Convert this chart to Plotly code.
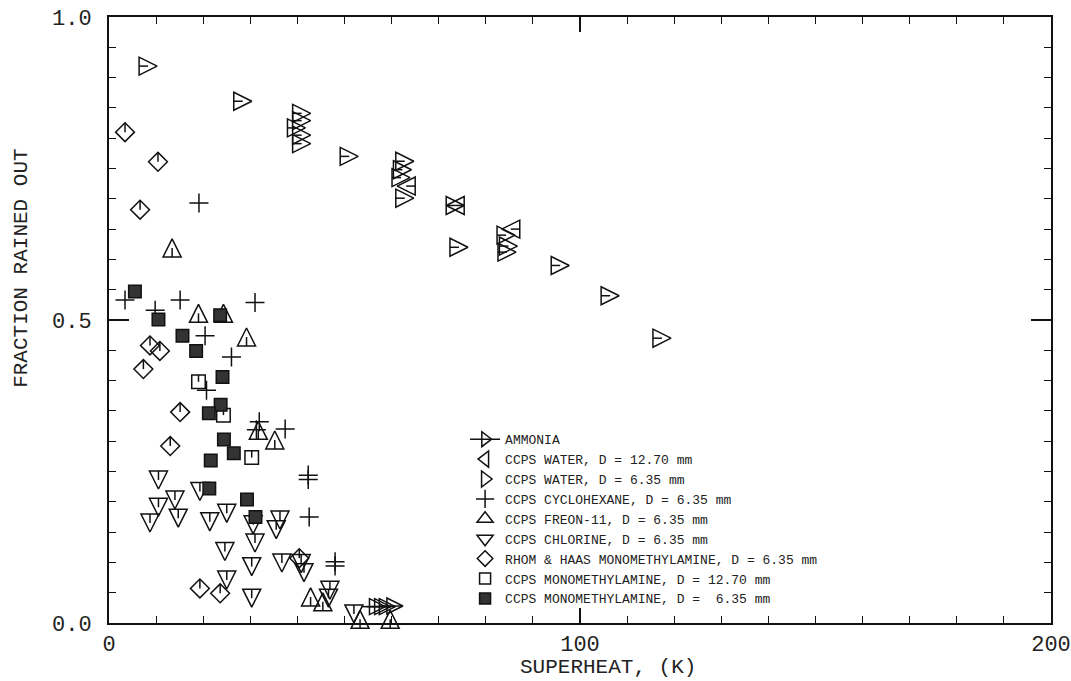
import plotly.graph_objects as go

# Fraction rained out versus superheat for several release tests
ammonia_x = [57.0, 58.1, 59.1, 60.7]
ammonia_y = [0.027, 0.027, 0.027, 0.028]

water127_x = [63.1, 73.5, 85.3]
water127_y = [0.721, 0.689, 0.650]

water635_x = [8.3, 28.4, 40.9, 40.9, 39.8, 40.9, 40.9, 51.0, 62.8, 62.3,
              62.0, 62.8, 73.5, 74.3, 84.3, 84.8, 84.5, 95.8, 106.4, 117.4]
water635_y = [0.919, 0.861, 0.841, 0.829, 0.817, 0.805, 0.791, 0.770, 0.762, 0.748,
              0.735, 0.701, 0.689, 0.620, 0.640, 0.622, 0.612, 0.590, 0.540, 0.470]

cyclo_x = [19.1, 3.4, 9.8, 15.1, 31.0, 20.4, 26.0, 20.7, 31.9, 31.3,
           37.4, 42.3, 42.3, 42.5, 48.0, 48.0]
cyclo_y = [0.693, 0.533, 0.516, 0.533, 0.529, 0.474, 0.439, 0.384, 0.332, 0.319,
           0.320, 0.244, 0.237, 0.175, 0.101, 0.094]

freon_x = [13.4, 19.0, 24.3, 29.2, 31.7, 35.2, 42.8, 45.4, 53.3, 59.7]
freon_y = [0.619, 0.511, 0.511, 0.472, 0.318, 0.302, 0.043, 0.035, 0.006, 0.006]

chlorine_x = [10.5, 14.0, 10.5, 8.7, 14.7, 19.3, 21.4, 25.0, 30.6, 36.3,
              35.5, 31.0, 24.6, 30.3, 36.7, 25.0, 30.3, 40.8, 41.4, 46.9,
              46.6, 52.0]
chlorine_y = [0.236, 0.203, 0.191, 0.165, 0.173, 0.217, 0.167, 0.181, 0.162, 0.170,
              0.154, 0.132, 0.118, 0.093, 0.099, 0.071, 0.041, 0.098, 0.083, 0.054,
              0.041, 0.015]

rhom_x = [3.4, 10.4, 6.6, 8.7, 10.8, 7.3, 15.1, 13.0, 19.3, 23.6, 40.4]
rhom_y = [0.810, 0.761, 0.682, 0.458, 0.449, 0.419, 0.348, 0.292, 0.057, 0.049, 0.107]

mma127_x = [19.0, 24.3, 30.3]
mma127_y = [0.398, 0.343, 0.273]

mma635_x = [5.5, 10.5, 23.6, 15.6, 18.5, 24.1, 23.7, 21.2, 24.4, 26.5,
            21.6, 21.3, 29.3, 31.1]
mma635_y = [0.547, 0.501, 0.508, 0.474, 0.449, 0.406, 0.360, 0.346, 0.303, 0.280,
            0.268, 0.222, 0.204, 0.175]

x_ticks = [0, 100, 200]
x_tick_text = ["0", "100", "200"]
y_ticks = [0.0, 0.5, 1.0]
y_tick_text = ["0.0", "0.5", "1.0"]

MONO = "Liberation Mono"
INK = "#111111"
TXT = "#222222"
LW = 1.5
TRI = 18          # triangle marker size (px)
HALF = TRI / 2

fig = go.Figure()


def add_shape(xs, ys, symbol, size, angle=0, standoff=0, fill=None):
    # open symbols take their stroke colour from marker.color
    marker = dict(symbol=symbol, size=size, angle=angle, standoff=standoff,
                  color=INK if fill is None else fill,
                  line=dict(color=INK, width=LW))
    fig.add_trace(go.Scatter(x=xs, y=ys, mode="markers", showlegend=False,
                             cliponaxis=False, marker=marker))


def add_stroke(xs, ys, length, angle, standoff):
    # short inner stroke drawn from the edge of a symbol toward its centre
    fig.add_trace(go.Scatter(
        x=xs, y=ys, mode="markers", showlegend=False, hoverinfo="skip",
        cliponaxis=False,
        marker=dict(symbol="line-ns-open", size=length / 1.4, angle=angle,
                    standoff=standoff, color=INK, line=dict(color=INK, width=LW)),
    ))


def add_key(name, symbol, size, fill=None, with_line=False):
    # legend entry only (no data points of its own)
    fig.add_trace(go.Scatter(
        x=[None], y=[None], name=name,
        mode="lines+markers" if with_line else "markers",
        line=dict(color=INK, width=LW),
        marker=dict(symbol=symbol, size=size,
                    color=INK if fill is None else fill,
                    line=dict(color=INK, width=LW)),
    ))


# AMMONIA: right-pointing triangle with a through line
add_shape(ammonia_x, ammonia_y, "arrow-down-open", 16, 270, 8)
add_stroke(ammonia_x, ammonia_y, 24, 90, 4)

# CCPS WATER 12.70 mm: left-pointing triangle
add_shape(water127_x, water127_y, "arrow-down-open", TRI, 90, HALF)
add_stroke(water127_x, water127_y, HALF, 270, HALF / 2)

# CCPS WATER 6.35 mm: right-pointing triangle
add_shape(water635_x, water635_y, "arrow-down-open", TRI, 270, HALF)
add_stroke(water635_x, water635_y, HALF, 90, HALF / 2)

# CCPS CYCLOHEXANE: plus
add_shape(cyclo_x, cyclo_y, "cross-thin-open", 13.6)

# CCPS FREON-11: up triangle
add_shape(freon_x, freon_y, "arrow-down-open", TRI, 180, HALF)
add_stroke(freon_x, freon_y, HALF, 0, HALF / 2)

# CCPS CHLORINE: down triangle
add_shape(chlorine_x, chlorine_y, "arrow-down-open", TRI, 0, HALF)
add_stroke(chlorine_x, chlorine_y, HALF, 180, HALF / 2)

# RHOM & HAAS: diamond
add_shape(rhom_x, rhom_y, "diamond-open", 14.5)
add_stroke(rhom_x, rhom_y, 9.4, 180, 4.7)

# CCPS MONOMETHYLAMINE 12.70 mm: square
add_shape(mma127_x, mma127_y, "square-open", 13.5)
add_stroke(mma127_x, mma127_y, 6.75, 180, 3.4)

# CCPS MONOMETHYLAMINE 6.35 mm: dark filled block
add_shape(mma635_x, mma635_y, "square", 12.5, fill="#333333")

# legend
add_key("AMMONIA", "triangle-right-open", 13, with_line=True)
add_key("CCPS WATER, D = 12.70 mm", "triangle-left-open", 14)
add_key("CCPS WATER, D = 6.35 mm", "triangle-right-open", 14)
add_key("CCPS CYCLOHEXANE, D = 6.35 mm", "cross-thin-open", 13)
add_key("CCPS FREON-11, D = 6.35 mm", "triangle-up-open", 14)
add_key("CCPS CHLORINE, D = 6.35 mm", "triangle-down-open", 14)
add_key("RHOM & HAAS MONOMETHYLAMINE, D = 6.35 mm", "diamond-open", 12)
add_key("CCPS MONOMETHYLAMINE, D = 12.70 mm", "square-open", 11)
add_key("CCPS MONOMETHYLAMINE, D = \u00a06.35 mm", "square", 11, fill="#333333")

axis_common = dict(
    showline=True, linecolor=INK, linewidth=1.8, mirror="ticks",
    ticks="inside", tickcolor=INK, tickwidth=1.5, automargin=False,
    showgrid=False, zeroline=False, ticklabeloverflow="allow",
    tickfont=dict(family=MONO, size=22, color=TXT),
)

fig.update_xaxes(
    range=[0, 200], tickmode="array", tickvals=x_ticks, ticktext=x_tick_text,
    ticklen=15, ticklabelstandoff=0,
    minor=dict(dtick=10, tick0=0, ticks="inside", ticklen=7, tickwidth=1.2,
               tickcolor=INK),
    **axis_common,
)
fig.update_yaxes(
    range=[0, 1], tickmode="array", tickvals=y_ticks, ticktext=y_tick_text,
    ticklen=20, ticklabelstandoff=11,
    minor=dict(dtick=0.05, tick0=0, ticks="inside", ticklen=7, tickwidth=1.2,
               tickcolor=INK),
    **axis_common,
)

fig.add_annotation(
    text="SUPERHEAT, (K)", xref="paper", yref="paper", x=0.530, y=-0.0735,
    xanchor="center", yanchor="middle", showarrow=False,
    font=dict(family=MONO, size=21, color=TXT),
)
fig.add_annotation(
    text="FRACTION RAINED OUT", xref="paper", yref="paper", x=-0.0924, y=0.586,
    xanchor="center", yanchor="middle", textangle=-90, showarrow=False,
    font=dict(family=MONO, size=21, color=TXT),
)

fig.update_layout(
    width=1071, height=681,
    margin=dict(l=109, r=20, t=17, b=58),
    paper_bgcolor="white", plot_bgcolor="white",
    showlegend=True,
    legend=dict(
        x=0.378, y=0.328, xanchor="left", yanchor="top",
        bgcolor="rgba(0,0,0,0)", borderwidth=0,
        font=dict(family=MONO, size=13, color=TXT),
        itemsizing="trace", tracegroupgap=0,
    ),
)

fig.write_html("out.html")
